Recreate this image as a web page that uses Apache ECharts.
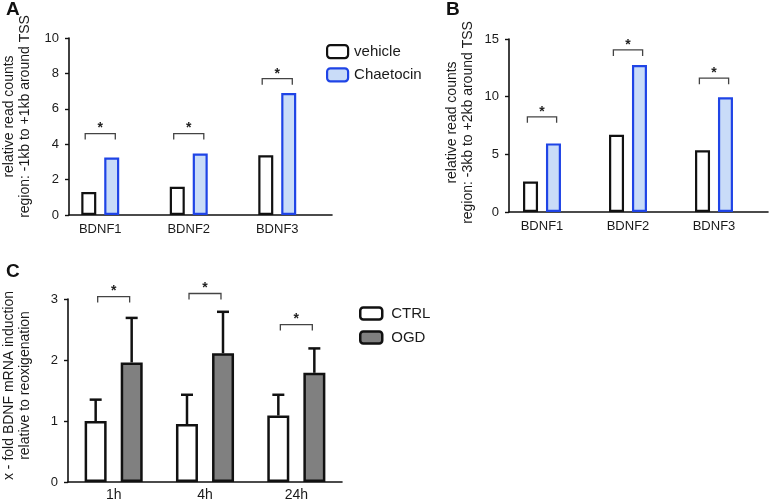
<!DOCTYPE html>
<html>
<head>
<meta charset="utf-8">
<script src="https://cdn.jsdelivr.net/npm/echarts@6/dist/echarts.min.js"></script>
<style>html,body{margin:0;padding:0;background:#fff}#c{width:770px;height:502px}</style>
</head>
<body>
<div id="c"></div>
<script>
// ---- data ----
const catsAB = ['BDNF1', 'BDNF2', 'BDNF3'];
const aVehicle = [1.3, 1.6, 3.37];
const aChaetocin = [3.25, 3.47, 6.89];
const aBracket = [4.6, 4.6, 7.7];
const bVehicle = [2.65, 6.7, 5.35];
const bChaetocin = [5.95, 12.75, 9.95];
const bBracket = [8.25, 14.05, 11.6];
const catsC = ['1h', '4h', '24h'];
const cCtrl = [1.0, 0.95, 1.09];
const cCtrlErr = [1.35, 1.43, 1.43];
const cOgd = [1.96, 2.11, 1.79];
const cOgdErr = [2.69, 2.79, 2.19];
const cBracket = [3.04, 3.09, 2.58];
const yTicksA = {min: 0, max: 10, interval: 2};
const yTicksB = {min: 0, max: 15, interval: 5};
const yTicksC = {min: 0, max: 3, interval: 1};

const FONT = '"Liberation Sans", Arial, sans-serif';
const TXT = '#1a1a1a';
const chart = echarts.init(document.getElementById('c'));

function bracketSeries(xi, yi, vals, halfFrac, drop) {
  return {
    type: 'custom', xAxisIndex: xi, yAxisIndex: yi, silent: true, z: 5,
    data: vals.map((v, i) => [i, v]),
    renderItem: function (params, api) {
      const p = api.coord([api.value(0), api.value(1)]);
      const band = api.size([1, 0])[0];
      const hw = band * halfFrac;
      return {
        type: 'group',
        children: [
          {type: 'polyline', shape: {points: [[p[0] - hw, p[1] + drop], [p[0] - hw, p[1]], [p[0] + hw, p[1]], [p[0] + hw, p[1] + drop]]},
           style: {stroke: '#444', lineWidth: 1.3, fill: null}},
          {type: 'text', style: {text: '*', x: p[0], y: p[1] + 2, align: 'center', verticalAlign: 'bottom',
            font: 'bold 14px ' + FONT, fill: '#222'}}
        ]
      };
    }
  };
}

function errSeries(xi, yi, means, uppers, offsetPx) {
  return {
    type: 'custom', xAxisIndex: xi, yAxisIndex: yi, silent: true, z: 1,
    data: means.map((m, i) => [i, m, uppers[i]]),
    renderItem: function (params, api) {
      const a = api.coord([api.value(0), api.value(1)]);
      const b = api.coord([api.value(0), api.value(2)]);
      const x = a[0] + offsetPx;
      return {
        type: 'group',
        children: [
          {type: 'line', shape: {x1: x, y1: a[1], x2: x, y2: b[1]}, style: {stroke: '#111', lineWidth: 2.5}},
          {type: 'line', shape: {x1: x - 6, y1: b[1], x2: x + 6, y2: b[1]}, style: {stroke: '#111', lineWidth: 2.5}}
        ]
      };
    }
  };
}

const axisLine = {show: true, lineStyle: {color: '#111', width: 1.6}};
function lineOnlyX(gi) {
  return {type: 'value', gridIndex: gi, min: 0, max: 1, axisLine: axisLine,
    axisTick: {show: false}, axisLabel: {show: false}, splitLine: {show: false}};
}
function visY(gi, t, name, nameGap, pad) {
  return {type: 'value', gridIndex: gi, min: t.min, max: t.max, interval: t.interval,
    axisLine: axisLine, axisTick: {show: true, length: 4, lineStyle: {color: '#111', width: 1.4}},
    axisLabel: {fontSize: 13, fontFamily: FONT, color: TXT, margin: 10},
    splitLine: {show: false},
    name: name, nameLocation: 'middle', nameGap: nameGap,
    nameTextStyle: {fontSize: 14, fontFamily: FONT, color: TXT, lineHeight: 16, padding: pad}};
}
function hidY(gi, t) {
  return {type: 'value', gridIndex: gi, min: t.min, max: t.max, interval: t.interval, show: false};
}
function catX(gi, cats, fs, margin) {
  return {type: 'category', gridIndex: gi, data: cats, axisLine: {show: false}, axisTick: {show: false},
    axisLabel: {fontSize: fs, fontFamily: FONT, color: TXT, margin: margin}};
}

const barW = 15;
const option = {
  animation: false,
  backgroundColor: '#fff',
  title: [
    {text: 'A', left: 1, top: -5, textStyle: {fontSize: 19, fontWeight: 'bold', fontFamily: FONT, color: '#111'}},
    {text: 'B', left: 441, top: -5, textStyle: {fontSize: 19, fontWeight: 'bold', fontFamily: FONT, color: '#111'}},
    {text: 'C', left: 1, top: 257, textStyle: {fontSize: 19, fontWeight: 'bold', fontFamily: FONT, color: '#111'}}
  ],
  legend: [
    {data: [{name: 'vehicle', itemStyle: {color: '#fff', borderColor: '#111', borderWidth: 2.2}},
            {name: 'Chaetocin', itemStyle: {color: '#c9dcf8', borderColor: '#1f44e6', borderWidth: 2.2}}],
     orient: 'vertical', left: 326, top: 44, padding: 0, itemWidth: 21, itemHeight: 13, itemGap: 8, selectedMode: false,
     textStyle: {fontSize: 15, fontFamily: FONT, color: TXT, padding: [0, 0, 0, 1]}},
    {data: [{name: 'CTRL', itemStyle: {color: '#fff', borderColor: '#111', borderWidth: 2.5}},
            {name: 'OGD', itemStyle: {color: '#808080', borderColor: '#111', borderWidth: 2.5}}],
     orient: 'vertical', left: 359, top: 306, padding: 0, itemWidth: 22, itemHeight: 12, itemGap: 9, selectedMode: false,
     textStyle: {fontSize: 15, fontFamily: FONT, color: TXT, padding: [0, 0, 0, 4]}}
  ],
  grid: [
    {left: 67, top: 38, width: 265, height: 177},
    {left: 56, top: 38, width: 265.5, height: 177},
    {left: 509, top: 39, width: 259, height: 173},
    {left: 499, top: 39, width: 258, height: 173},
    {left: 68, top: 299, width: 274, height: 183}
  ],
  xAxis: [
    lineOnlyX(0),
    catX(1, catsAB, 13, 8),
    lineOnlyX(2),
    catX(3, catsAB, 13, 8),
    Object.assign(catX(4, catsC, 14, 6), {axisLine: axisLine})
  ],
  yAxis: [
    visY(0, yTicksA, 'relative read counts\nregion: -1kb to +1kb around TSS', 36, [0, 0, 0, 20]),
    hidY(1, yTicksA),
    visY(2, yTicksB, 'relative read counts\nregion: -3kb to +2kb around TSS', 33, [0, 0, 0, 6]),
    hidY(3, yTicksB),
    visY(4, yTicksC, 'x - fold BDNF mRNA induction\nrelative to reoxigenation', 35, [0, 0, 0, 10])
  ],
  series: [
    {name: 'vehicle', type: 'bar', xAxisIndex: 1, yAxisIndex: 1, data: aVehicle, barWidth: barW, barGap: '53%',
     itemStyle: {color: '#fff', borderColor: '#111', borderWidth: 2.2}, z: 2},
    {name: 'Chaetocin', type: 'bar', xAxisIndex: 1, yAxisIndex: 1, data: aChaetocin, barWidth: barW, barGap: '53%',
     itemStyle: {color: '#c9dcf8', borderColor: '#1f44e6', borderWidth: 2.2}, z: 2},
    bracketSeries(1, 1, aBracket, 0.17, 6),
    {name: 'vehicle', type: 'bar', xAxisIndex: 3, yAxisIndex: 3, data: bVehicle, barWidth: barW, barGap: '53%',
     itemStyle: {color: '#fff', borderColor: '#111', borderWidth: 2.2}, z: 2},
    {name: 'Chaetocin', type: 'bar', xAxisIndex: 3, yAxisIndex: 3, data: bChaetocin, barWidth: barW, barGap: '53%',
     itemStyle: {color: '#c9dcf8', borderColor: '#1f44e6', borderWidth: 2.2}, z: 2},
    bracketSeries(3, 3, bBracket, 0.17, 6),
    {name: 'CTRL', type: 'bar', xAxisIndex: 4, yAxisIndex: 4, data: cCtrl, barWidth: 22, barGap: '64%',
     itemStyle: {color: '#fff', borderColor: '#111', borderWidth: 2.5}, z: 2},
    {name: 'OGD', type: 'bar', xAxisIndex: 4, yAxisIndex: 4, data: cOgd, barWidth: 22, barGap: '64%',
     itemStyle: {color: '#808080', borderColor: '#111', borderWidth: 2.5}, z: 2},
    errSeries(4, 4, cCtrl, cCtrlErr, -18),
    errSeries(4, 4, cOgd, cOgdErr, 18),
    bracketSeries(4, 4, cBracket, 0.175, 6)
  ]
};
chart.setOption(option);
</script>
</body>
</html>
